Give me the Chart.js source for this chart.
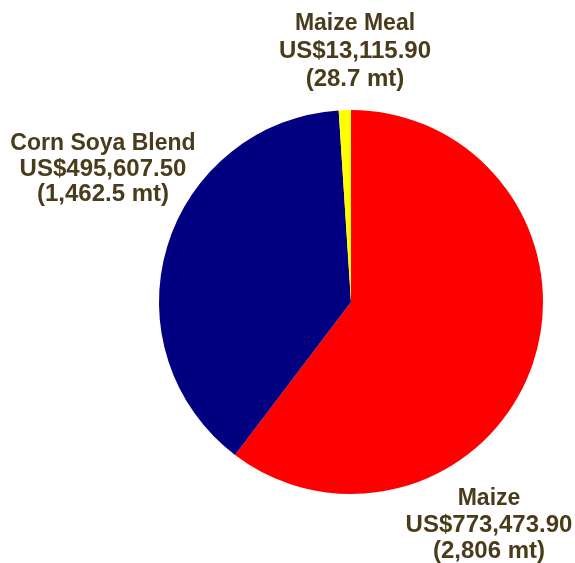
<!DOCTYPE html>
<html>
<head>
<meta charset="utf-8">
<script src="https://cdn.jsdelivr.net/npm/chart.js@4"></script>
<style>
  html, body { margin: 0; padding: 0; background: #fff; }
  #wrap { width: 575px; height: 563px; }
</style>
</head>
<body>
<div id="wrap"><canvas id="pieChart" width="575" height="563"></canvas></div>
<script>
// commodities and their value (US$) and tonnage (mt)
const commodities = ['Maize', 'Corn Soya Blend', 'Maize Meal'];
const valuesUSD = [773473.90, 495607.50, 13115.90];
const tonnage = ['2,806', '1,462.5', '28.7'];
const sliceColors = ['#ff0000', '#000080', '#ffff00'];

// where each text block sits (center x, first baseline y, line gap)
const labelSpots = [
  { x: 489, y: 505, gap: 26.5 },
  { x: 103, y: 150, gap: 25.5 },
  { x: 355, y: 30, gap: 28 }
];

const money = v => 'US$' + v.toLocaleString('en-US', { minimumFractionDigits: 2, maximumFractionDigits: 2 });

const labelPlugin = {
  id: 'sliceLabels',
  afterDraw(chart) {
    const ctx = chart.ctx;
    ctx.save();
    ctx.fillStyle = '#4a3b1b';
    ctx.textAlign = 'center';
    ctx.textBaseline = 'alphabetic';
    const sizes = [23, 24, 24];
    commodities.forEach((name, i) => {
      const spot = labelSpots[i];
      const lines = [name, money(valuesUSD[i]), '(' + tonnage[i] + ' mt)'];
      lines.forEach((txt, j) => {
        ctx.font = 'bold ' + sizes[j] + 'px "Liberation Sans", Arial, sans-serif';
        ctx.fillText(txt, spot.x, spot.y + j * spot.gap);
      });
    });
    ctx.restore();
  }
};

const ctx = document.getElementById('pieChart').getContext('2d');
const pieChart = new Chart(ctx, {
  type: 'pie',
  data: {
    labels: commodities,
    datasets: [{
      data: valuesUSD,
      backgroundColor: sliceColors,
      borderWidth: 0
    }]
  },
  options: {
    responsive: false,
    animation: false,
    layout: {
      padding: { left: 159, right: 32, top: 110, bottom: 69 }
    },
    plugins: {
      legend: { display: false },
      tooltip: { enabled: false }
    }
  },
  plugins: [labelPlugin]
});
</script>
</body>
</html>
